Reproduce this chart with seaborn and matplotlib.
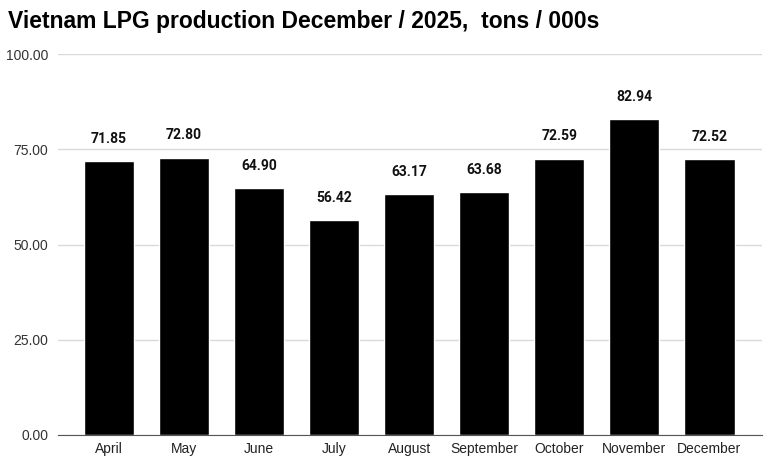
import matplotlib
matplotlib.use("Agg")
import matplotlib.pyplot as plt
import seaborn as sns
import pandas as pd

months = ["April", "May", "June", "July", "August", "September", "October", "November", "December"]
production = [71.85, 72.80, 64.90, 56.42, 63.17, 63.68, 72.59, 82.94, 72.52]
y_ticks = [0, 25, 50, 75, 100]

df = pd.DataFrame({"month": months, "tons": production})

sns.set_style("white")
plt.rcParams["font.family"] = ["Liberation Sans", "DejaVu Sans"]

fig = plt.figure(figsize=(7.72, 4.69), dpi=100)
ax = fig.add_axes([0.0751, 0.0725, 0.912, 0.812])

sns.barplot(data=df, x="month", y="tons", color="black", width=0.667,
            saturation=1, ax=ax, zorder=3)

for i, v in enumerate(production):
    ax.annotate(f"{v:.2f}", (i, v), xytext=(0, 11), textcoords="offset points",
                ha="center", va="bottom", fontsize=10, fontweight="bold",
                family=["Roboto", "DejaVu Sans"], color="#111111")

ax.set_ylim(0, 100)
ax.set_xlim(-0.68, 8.7)
ax.set_yticks(y_ticks)
ax.set_yticklabels([f"{t:.2f}" for t in y_ticks], fontsize=10, color="#333333")
ax.tick_params(axis="x", labelsize=10, colors="#222222", length=0, pad=5)
ax.tick_params(axis="y", length=0, pad=7)
ax.yaxis.grid(True, color="#d9d9d9", linewidth=1, zorder=0)
ax.set_xlabel("")
ax.set_ylabel("")
for s in ["top", "right", "left"]:
    ax.spines[s].set_visible(False)
ax.spines["bottom"].set_color("#555555")
ax.spines["bottom"].set_zorder(4)

fig.text(0.01, 0.955, "Vietnam LPG production December / 2025,  tons / 000s",
         fontsize=16.5, fontweight="bold", va="center", ha="left", color="black")

fig.savefig("out.png", dpi=100)
